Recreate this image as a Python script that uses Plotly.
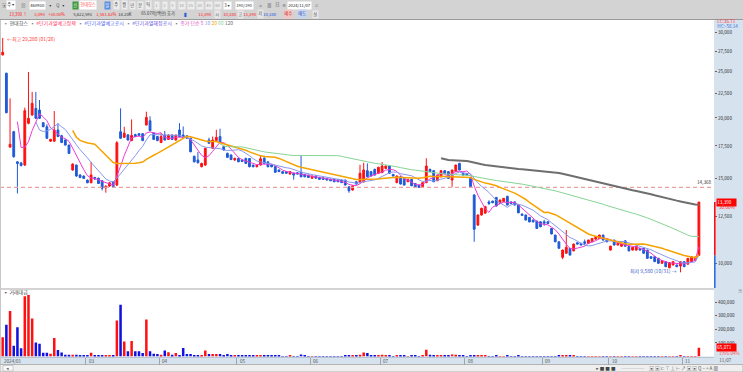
import numpy as np
import pandas as pd
import plotly.graph_objects as go

W, H = 743, 372
FONT = "Noto Sans CJK KR, DejaVu Sans, sans-serif"

# ---------------- data ----------------
HOLIDAYS = ["2024-02-09", "2024-02-12", "2024-03-01", "2024-04-10", "2024-05-01",
            "2024-05-06", "2024-05-15", "2024-06-06", "2024-08-15", "2024-09-16",
            "2024-09-17", "2024-09-18", "2024-10-01", "2024-10-03", "2024-10-09"]
DATES = [d for d in pd.bdate_range("2024-01-26", "2024-11-07")
         if d.strftime("%Y-%m-%d") not in HOLIDAYS]

OPEN = [27000, 24750, 17400, 18730, 16220, 16140, 15975, 19490, 20280, 20930,
        20765, 19550, 19170, 17900, 17900, 18880, 18370, 18000, 17570, 15600,
        15975, 15230, 15160, 14870, 14680, 15060, 15000, 14820, 14330, 14450,
        14750, 14520, 18730, 18230, 18450, 17950, 18470, 18550, 18550, 19330,
        19730, 18600, 18300, 17780, 18430, 18050, 18430, 18000, 18880, 18430,
        18370, 18150, 16660, 16360, 15850, 15975, 18000, 17300, 17950, 18300,
        17440, 16890, 16760, 16360, 16490, 16360, 16480, 16480, 15970, 15850,
        15975, 16500, 16220, 15970, 15850, 15600, 15480, 15480, 15300, 15360,
        15400, 15430, 15280, 15230, 15000, 15160, 15060, 15030, 14990, 14940,
        14920, 14900, 14870, 14870, 14400, 14180, 14750, 14690, 14750, 15550,
        15480, 15650, 15360, 15400, 15720, 15900, 15280, 14690, 15100, 14990,
        14750, 14920, 14630, 14520, 14400, 14690, 15650, 15550, 14820, 15100,
        15550, 15480, 14870, 15480, 16100, 15360, 15330, 14990, 13850, 12000,
        12590, 12700, 13400, 13450, 13690, 13300, 13420, 13760, 13400, 13400,
        13200, 12650, 12590, 12450, 12290, 12230, 12190, 12190, 12190, 11810,
        11440, 11080, 10290, 10490, 10740, 10610, 11030, 11000, 11080, 11000,
        11080, 11220, 11250, 11440, 11170, 10650, 11170, 10910, 10850, 11130,
        10830, 10650, 10650, 10740, 10740, 10650, 10320, 10320, 10240, 10000,
        10080, 9790, 9920, 9920, 9870, 10080, 9960, 10080, 10150, 10380]
HIGH = [29280, 24800, 21950, 18800, 16250, 16200, 21000, 24900, 22640, 22640,
        21780, 19600, 19400, 18100, 20670, 19490, 18450, 18050, 17600, 16100,
        16000, 15300, 15200, 14900, 16220, 15100, 15050, 14850, 14500, 14700,
        14800, 17900, 20930, 19170, 18500, 19860, 18550, 18600, 18600, 20600,
        20150, 18650, 18350, 18600, 18800, 18500, 18480, 18450, 19500, 19200,
        18400, 18200, 16700, 17000, 16150, 17350, 18200, 18300, 18900, 19000,
        17500, 16950, 16800, 16550, 16550, 16400, 16550, 16500, 16000, 16000,
        16700, 16700, 16250, 16000, 15900, 15650, 15500, 15520, 15520, 15400,
        15450, 16760, 15300, 15260, 15180, 15200, 15100, 15050, 15000, 14960,
        14950, 14930, 14900, 14900, 14420, 14500, 14800, 16000, 16150, 16100,
        15520, 15700, 15850, 16200, 15950, 15950, 15300, 15200, 15150, 15000,
        14950, 14950, 14650, 14540, 14720, 16500, 15700, 15600, 15250, 15600,
        15600, 15500, 15620, 16000, 16150, 15400, 15350, 15000, 13900, 12620,
        13030, 13150, 13500, 13480, 13720, 13550, 13650, 13800, 13430, 13420,
        13220, 12670, 12610, 12470, 12310, 12250, 12210, 12300, 12210, 11830,
        11460, 11100, 10670, 11720, 10760, 10980, 11050, 11020, 11200, 11190,
        11280, 11370, 11460, 11460, 11190, 10870, 11190, 11020, 10980, 11150,
        10850, 10810, 10870, 10760, 10760, 10670, 10340, 10340, 10260, 10140,
        10100, 10050, 10100, 9940, 10100, 10100, 10260, 10340, 10320, 13390]
LOW = [26950, 20450, 17350, 16550, 13950, 15880, 15900, 19400, 20200, 19900,
       19900, 19150, 18100, 17850, 17850, 18250, 17750, 17550, 16850, 15550,
       15100, 15000, 14950, 14650, 14650, 14900, 14600, 14150, 14000, 14400,
       14350, 14450, 18100, 18200, 17950, 17900, 18250, 18350, 17900, 19300,
       18780, 18000, 17900, 17750, 17950, 18000, 18000, 17950, 18250, 18200,
       18100, 16980, 16180, 16100, 15800, 15900, 17700, 17250, 17900, 17750,
       17100, 16520, 16350, 16300, 16200, 16200, 16050, 15800, 15800, 15800,
       15950, 16050, 15800, 15800, 15400, 15450, 15330, 15330, 15280, 14900,
       15280, 15080, 15080, 15030, 14980, 14980, 14900, 14900, 14850, 14800,
       14730, 14730, 14670, 14500, 14000, 14150, 14550, 14650, 14700, 15080,
       15130, 15200, 15330, 15380, 15700, 15330, 15130, 14650, 14560, 14500,
       14730, 14450, 14340, 14340, 14380, 14650, 15450, 14730, 14800, 15080,
       15330, 14970, 14400, 15450, 15580, 15200, 15200, 14380, 11080, 11950,
       12550, 12680, 13200, 13320, 13100, 13280, 13400, 13170, 13280, 13180,
       12700, 12550, 12270, 12160, 12160, 11790, 11880, 11950, 12070, 11480,
       11060, 10720, 10200, 10470, 10380, 10590, 10940, 10890, 10900, 10980,
       11060, 11200, 11230, 11150, 11060, 10630, 10890, 10890, 10830, 10830,
       10590, 10630, 10630, 10630, 10470, 10220, 10220, 10060, 9980, 9980,
       9820, 9770, 9900, 9820, 9580, 9820, 9940, 10060, 10130, 10380]
CLOSE = [27350, 20500, 17640, 16620, 16100, 15930, 20700, 19960, 21440, 19960,
         19960, 19170, 18150, 18060, 18880, 18300, 17780, 17570, 16890, 16050,
         15160, 15060, 14990, 14680, 15230, 14940, 14630, 14300, 14440, 14680,
         14400, 17770, 18150, 18600, 18000, 18400, 18300, 18400, 17950, 20050,
         18820, 18050, 17950, 18300, 18000, 18430, 18050, 18430, 18300, 18240,
         18150, 17020, 16220, 16150, 16100, 17300, 17720, 18000, 18230, 17780,
         17160, 16570, 16400, 16490, 16220, 16250, 16100, 15850, 15850, 15950,
         16460, 16100, 15850, 15850, 15430, 15480, 15360, 15360, 15480, 15230,
         15300, 15100, 15100, 15060, 15160, 15000, 14920, 14920, 14870, 14820,
         14750, 14750, 14690, 14520, 14130, 14470, 14590, 15360, 15600, 15100,
         15160, 15230, 15800, 15900, 15900, 15360, 15160, 15160, 14590, 14520,
         14920, 14470, 14360, 14360, 14690, 15900, 15480, 14750, 15230, 15550,
         15360, 14990, 15600, 15975, 15600, 15230, 15230, 14400, 11760, 12590,
         13000, 13100, 13300, 13350, 13140, 13520, 13630, 13200, 13300, 13200,
         12720, 12570, 12290, 12180, 12180, 11810, 11900, 12100, 12090, 11500,
         11080, 10740, 10650, 10790, 10400, 10960, 10960, 10910, 11000, 11170,
         11260, 11350, 11440, 11170, 11080, 10850, 10910, 11000, 10960, 10850,
         10610, 10790, 10850, 10650, 10490, 10240, 10240, 10080, 10000, 10120,
         9840, 10030, 10080, 9840, 10080, 9840, 10240, 10320, 10300, 13390]
# 거래대금 (trading value)
VALUE = [143000, 235000, 336000, 80000, 216000, 60000, 444000, 455000, 280000, 103000,
         95000, 28000, 28000, 20000, 137000, 48000, 30000, 12000, 12000, 12000,
         12000, 6000, 5000, 5000, 28000, 5000, 5000, 6000, 5000, 8000,
         5000, 266000, 383000, 110000, 38000, 115000, 38000, 38000, 25000, 274000,
         38000, 20000, 18000, 12000, 45000, 32000, 12000, 25000, 10000, 62000,
         18000, 18000, 10000, 5000, 5000, 45000, 18000, 18000, 18000, 18000,
         6000, 18000, 10000, 6000, 6000, 5000, 5000, 10000, 5000, 8000,
         6000, 5000, 4000, 4000, 4000, 4000, 3000, 3000, 4000, 3000,
         3000, 15000, 4000, 3000, 3000, 3000, 3000, 3000, 2500, 3000,
         3000, 3000, 3000, 4000, 5000, 6000, 4000, 12000, 30000, 25000,
         8000, 5000, 5000, 12000, 6000, 5000, 3000, 5000, 4000, 4000,
         3000, 4000, 4000, 3000, 4000, 50000, 12000, 6000, 5000, 5000,
         4000, 4000, 15000, 12000, 6000, 4000, 3000, 5000, 6000, 5000,
         4000, 4000, 3000, 3000, 4000, 3000, 3000, 5000, 3000, 3000,
         4000, 3000, 3000, 3000, 2500, 3000, 3000, 2500, 2500, 3000,
         3000, 4000, 8000, 6000, 4000, 4000, 3000, 2500, 2500, 3000,
         3000, 3000, 3000, 3000, 2500, 3000, 3000, 2500, 2500, 3000,
         3000, 2500, 3000, 2500, 3000, 3500, 2500, 3000, 3000, 2500,
         3000, 3000, 2500, 3000, 4000, 3000, 3000, 3500, 3260, 65071]

REF_PRICE = 14368
MA_PERIODS = [5, 10, 20, 60, 120]
PRICE_TICKS = [10000, 12500, 15000, 17500, 20000, 22500, 25000, 27500, 30000]
VALUE_TICKS = [100000, 200000, 300000, 400000]
SHARE_VOLUME = "5,622,593"
VOL_RATIO = "1,581.62%"
TURNOVER = "14.20K"
AMOUNT = "65.07억(백만)"

# ---------------- styles / helpers ----------------
RED = "#ff1010"
BLUE = "#1f5ad8"
VBLUE = "#1010e0"
MA_COLORS = {5: "#ee3ad8", 10: "#8898ee", 20: "#f5a300", 60: "#86d494", 120: "#6e6e6e"}
MA_WIDTHS = {5: 1, 10: 1, 20: 1.5, 60: 1, 120: 2}
AX_BG = "#d6e2ee"
HS = 4.2  # header font size


def px(x):
    return x / W


def py(y):
    return 1 - y / H


n = len(CLOSE)
DATES = DATES[:n]
idx = list(range(n))
up = [c >= o for o, c in zip(OPEN, CLOSE)]
XR = [-0.73, 193.1]
PLOT_R = 714
P_DOM = [py(288), py(20)]
P_RNG = [3.94886, 4.50373]
V_DOM = [py(356.5), py(290)]
V_RNG = [0, 491000]


def price_paper(p):
    return P_DOM[0] + (np.log10(p) - P_RNG[0]) / (P_RNG[1] - P_RNG[0]) * (P_DOM[1] - P_DOM[0])


# month boundaries
month_pos, month_txt = [], []
last = None
for i, d in enumerate(DATES):
    if d.month != last:
        txt = d.strftime("%Y/%m") if not month_pos else d.strftime("%m")
        if month_pos and (i - 0.5 - month_pos[-1]) < 8:
            last = d.month
            continue
        month_pos.append(i - 0.5)
        month_txt.append(txt)
        last = d.month

fig = go.Figure()

# reference dashed line
fig.add_trace(go.Scatter(x=XR, y=[REF_PRICE, REF_PRICE], mode="lines",
                         line=dict(color="#eca0a0", width=1.2, dash="4px,3px"),
                         hoverinfo="skip", xaxis="x", yaxis="y"))

fig.add_trace(go.Candlestick(
    x=idx, open=OPEN, high=HIGH, low=LOW, close=CLOSE,
    increasing=dict(line=dict(color=RED, width=1), fillcolor=RED),
    decreasing=dict(line=dict(color=BLUE, width=1), fillcolor=BLUE),
    whiskerwidth=0, hoverinfo="skip", xaxis="x", yaxis="y"))

cs = pd.Series(CLOSE, dtype=float)
for p in MA_PERIODS:
    ma = cs.rolling(p).mean()
    fig.add_trace(go.Scatter(x=idx, y=ma, mode="lines",
                             line=dict(color=MA_COLORS[p], width=MA_WIDTHS[p]),
                             hoverinfo="skip", xaxis="x", yaxis="y"))

fig.add_trace(go.Bar(x=idx, y=VALUE, marker=dict(color=[RED if u else VBLUE for u in up], line=dict(width=0)),
                     hoverinfo="skip", xaxis="x2", yaxis="y2"))

tfont = dict(family=FONT, size=4.6, color="#333")
fig.update_layout(
    width=W, height=H, margin=dict(l=0, r=0, t=0, b=0),
    paper_bgcolor="white", plot_bgcolor="white", showlegend=False, bargap=0.32,
    font=dict(family=FONT, size=5, color="#333"),
    xaxis=dict(domain=[0, px(PLOT_R)], range=XR, visible=False, anchor="y",
               rangeslider=dict(visible=False)),
    xaxis2=dict(domain=[0, px(PLOT_R)], range=XR, anchor="y2", showticklabels=False,
                showgrid=False, zeroline=False, ticks="outside", ticklen=7,
                tickcolor="#9aa6b4", tickvals=month_pos, showline=True, linecolor="#b8c4d0", linewidth=1),
    yaxis=dict(domain=P_DOM, type="log", range=P_RNG, side="right", anchor="x",
               showgrid=False, zeroline=False, ticks="outside", ticklen=2, tickcolor="#666",
               tickvals=PRICE_TICKS, ticktext=[f"{v:,}" for v in PRICE_TICKS], tickfont=tfont),
    yaxis2=dict(domain=V_DOM, range=V_RNG, side="right", anchor="x2",
                showgrid=False, zeroline=False, ticks="outside", ticklen=2, tickcolor="#666",
                tickvals=VALUE_TICKS, ticktext=[f"{v:,}" for v in VALUE_TICKS], tickfont=tfont),
)

shapes = [
    dict(type="rect", xref="paper", yref="paper", x0=0, x1=1, y0=py(19.5), y1=1,
         fillcolor="#d3d3d3", line=dict(width=0), layer="below"),
    dict(type="line", xref="paper", yref="paper", x0=0, x1=1, y0=py(19.5), y1=py(19.5),
         line=dict(color="#9a9a9a", width=1)),
    dict(type="rect", xref="paper", yref="paper", x0=px(PLOT_R), x1=1, y0=py(364.5), y1=py(20),
         fillcolor=AX_BG, line=dict(width=0), layer="below"),
    dict(type="rect", xref="paper", yref="paper", x0=0, x1=px(PLOT_R), y0=py(364.5), y1=py(356.5),
         fillcolor=AX_BG, line=dict(width=0), layer="below"),
    dict(type="rect", xref="paper", yref="paper", x0=0, x1=1, y0=0, y1=py(364.5),
         fillcolor="#efefef", line=dict(color="#b4b4b4", width=1), layer="below"),
    dict(type="line", xref="paper", yref="paper", x0=0, x1=px(PLOT_R), y0=py(289), y1=py(289),
         line=dict(color="#c4c4c4", width=1.5)),
    dict(type="line", xref="paper", yref="paper", x0=px(0.5), x1=px(0.5), y0=py(364.5), y1=py(20),
         line=dict(color="#c8c8c8", width=1)),
    dict(type="line", xref="paper", yref="paper", x0=px(PLOT_R + 0.8), x1=px(PLOT_R + 0.8),
         y0=price_paper(CLOSE[-1]), y1=price_paper(LOW[-1]), line=dict(color=RED, width=1.6)),
    dict(type="line", xref="paper", yref="paper", x0=px(PLOT_R + 0.8), x1=px(PLOT_R + 0.8),
         y0=price_paper(LOW[-1]), y1=P_DOM[0], line=dict(color="#2f6ee0", width=1.6)),
    dict(type="rect", xref="paper", yref="paper", x0=px(3), x1=px(13), y0=py(371), y1=py(365.5),
         fillcolor="#fafafa", line=dict(color="#b0b0b0", width=0.6)),
]
fig.update_layout(shapes=shapes)

ann = []


def text(x, y, t, color="#333", size=4.8, xanchor="left", bg=None, **kw):
    d = dict(xref="paper", yref="paper", x=px(x), y=py(y), text=t, showarrow=False,
             xanchor=xanchor, yanchor="middle", font=dict(family=FONT, size=size, color=color),
             borderpad=0.3)
    if bg:
        d["bgcolor"] = bg
    d.update(kw)
    ann.append(d)


# header row 1
R1, R2 = 5.5, 14.5
for x, t, c, bg in [
    (1, "▣", "#666", None), (6, "주 ▾", "#333", "#ffffff"), (20, "▤", "#666", None),
    (29, "460930", "#222", "#ffffff"), (48, "▾", "#444", None), (55, "Q", "#444", None),
    (61, "▾", "#444", None), (72, "신", "#ffffff", "#3c9a3c"), (79, "현대힘스", "#ff4d4d", "#ffffff"),
    (104, "일", "#ffffff", "#5b8fe0"), (113, "주", "#444", "#ececec"), (121, "월", "#444", "#ececec"),
    (129, "년", "#444", "#ececec"), (137, "분", "#444", "#ececec"), (145, "틱", "#444", "#ececec"),
    (154, "1", "#999", "#ececec"), (162, "3", "#999", "#ececec"), (170, "5", "#999", "#ececec"),
    (178, "10", "#999", "#ececec"), (187, "15", "#999", "#ececec"), (196, "30", "#999", "#ececec"),
    (205, "45", "#999", "#ececec"), (214, "60", "#999", "#ececec"), (223, "3 ▾", "#333", "#ffffff"),
    (235, "190/190", "#333", "#ffffff"), (258, "⌂", "#666", None), (266, "▦", "#666", None),
    (274, "日", "#666", None), (281, "⚙", "#666", None), (287, "2024/11/07", "#222", "#ffffff"),
    (314, "⊏", "#666", None)]:
    text(x, R1, t, c, size=HS, bg=bg)

chg = CLOSE[-1] - CLOSE[-2]
pct = chg / CLOSE[-2] * 100
for x, t, c, bg in [
    (8, f"{CLOSE[-1]:,} ↑", "#ff2020", None), (33, f"{chg:,}", "#ff2020", None),
    (47, f"+{pct:.2f}%", "#ff2020", None), (72, SHARE_VOLUME, "#333", None),
    (95, VOL_RATIO, "#ff2020", None), (117, TURNOVER, "#333", None),
    (140, AMOUNT + " 호가", "#333", None), (183, "▌", "#2a5fd0", None),
    (197, f"{CLOSE[-1]:,}", "#ff2020", None), (214, "시", "#555", "#e6e6e6"),
    (222, f"{OPEN[-1]:,}", "#ff2020", None), (237, "고", "#555", "#e6e6e6"),
    (242, f"{HIGH[-1]:,}", "#ff2020", None), (257, "저", "#555", "#e6e6e6"),
    (262, f"{LOW[-1]:,}", "#2050e0", None), (283, "매수", "#c03030", "#f5c6c6"),
    (297, "매도", "#3050b0", "#c6d6f2"), (312, "설", "#555", "#e8e8e8")]:
    text(x, R2, t, c, size=HS, bg=bg)

# legend row
sp = "\u00a0"
leg = (f"<span style='color:#888'>▪</span>{sp}<span style='color:#444'>현대힘스</span>{sp*2}"
       f"<span style='color:#888'>▪</span>{sp}<span style='color:#ff3060'>#단기과열예고정책</span>{sp*2}"
       f"<span style='color:#888'>▪</span>{sp}<span style='color:#4a5ef0'>#단기과열예고공시</span>{sp*2}"
       f"<span style='color:#888'>▪</span>{sp}<span style='color:#5b4fe0'>#단기과열해정공시</span>{sp*2}"
       f"<span style='color:#888'>▪</span>{sp}<span style='color:#e050c0'>종가 단순</span>{sp}"
       + f"{sp}".join(f"<span style='color:{MA_COLORS[p]}'>{p}</span>" for p in MA_PERIODS))
text(1.5, 24, leg, size=5)

# high / low notes
hi_i = int(np.argmax(HIGH))
lo_i = int(np.argmin(LOW))
ann.append(dict(xref="x", yref="y", x=hi_i, y=np.log10(HIGH[hi_i]), xanchor="left", yanchor="middle",
                xshift=2, yshift=-1, showarrow=False,
                text=f"←최고 {HIGH[hi_i]:,} ({DATES[hi_i].strftime('%m/%d')})",
                font=dict(family=FONT, size=5, color="#ff3a3a")))
ann.append(dict(xref="x", yref="y", x=lo_i, y=np.log10(LOW[lo_i]), xanchor="right", yanchor="middle",
                xshift=-1, yshift=1, showarrow=False,
                text=f"최저 {LOW[lo_i]:,} ({DATES[lo_i].strftime('%m/%d')}) →",
                font=dict(family=FONT, size=5, color="#3a5ccc")))
# reference line label
ann.append(dict(xref="paper", yref="y", x=px(713), y=np.log10(REF_PRICE), xanchor="right",
                yanchor="bottom", yshift=0.5, showarrow=False, text=f"{REF_PRICE:,}",
                font=dict(family=FONT, size=4.6, color="#333")))

# right axis extras
text(716, 22, "LC:36.71", "#ff3030", size=4.6)
text(716, 26.3, "HC:-58.14", "#3070e0", size=4.6)
ann.append(dict(xref="paper", yref="y", x=px(715.5), y=np.log10(CLOSE[-1]), xanchor="left",
                yanchor="middle", showarrow=False, text=f"{CLOSE[-1]:,}" + sp * 4,
                bgcolor="#ff0000", borderpad=0.3, font=dict(family=FONT, size=4.6, color="#ffffff")))
ann.append(dict(xref="paper", yref="y", x=px(717), y=np.log10(CLOSE[-1]), xanchor="left",
                yanchor="middle", yshift=-5, showarrow=False, text=f"{pct:.2f}%",
                font=dict(family=FONT, size=4.6, color="#ff3030")))
vr = VALUE[-1] / VALUE[-2] * 100
ann.append(dict(xref="paper", yref="y2", x=px(715.5), y=VALUE[-1], xanchor="left",
                yanchor="middle", showarrow=False, text=f"{VALUE[-1]:,}" + sp * 4,
                bgcolor="#ff0000", borderpad=0.3, font=dict(family=FONT, size=4.6, color="#ffffff")))
ann.append(dict(xref="paper", yref="y2", x=px(717), y=VALUE[-1], xanchor="left",
                yanchor="middle", yshift=-5, showarrow=False, text=f"{vr:.2f}%",
                font=dict(family=FONT, size=4.6, color="#ff5050")))
text(2, 292.5, "▪ 거래대금", "#444", size=5)
text(737, 291.5, "▣", "#888", size=4)

# month labels
for pos, t in zip(month_pos, month_txt):
    ann.append(dict(xref="x2", yref="paper", x=pos, y=py(360.5), xanchor="left", yanchor="middle",
                    xshift=1, showarrow=False, text=t, font=dict(family=FONT, size=4.6, color="#555")))
text(718, 360.5, DATES[-1].strftime("%m/%d"), "#555", size=4.6)

# scrollbar controls
text(5, 368.3, "◂", "#555", size=4.6)
text(595, 368.3, "▸ ■ ■ ■", "#444", size=4.6)
text(620, 368.3, "┈┈┈┈┈", "#777", size=4.6)
text(648, 368.3, "▣ ▣ ⊏ ⊤ ⊥ ⊢ ↗ ▣ ▣ Q − + A ▦", "#555", size=4.6)

fig.update_layout(annotations=ann)
fig.write_html("out.html")
